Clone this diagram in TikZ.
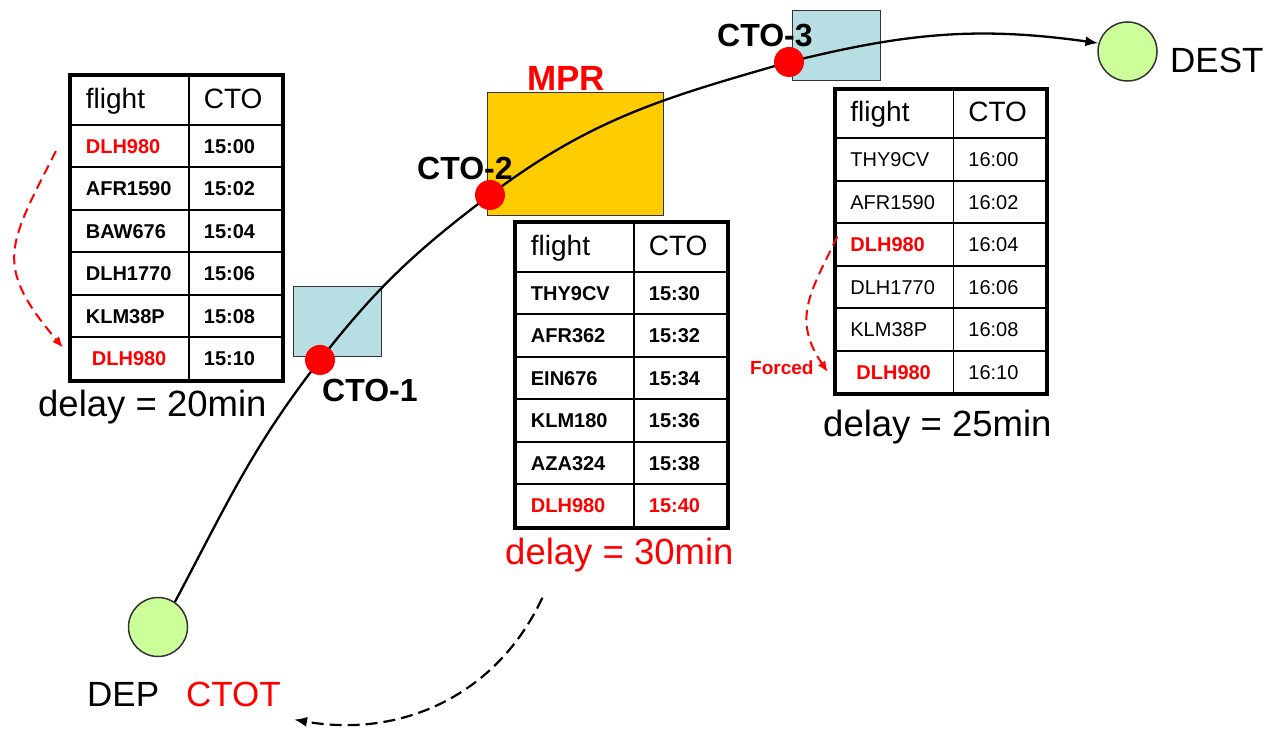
\documentclass[tikz,border=0pt]{standalone}
\usepackage{fontspec}
\setmainfont{Liberation Sans}
\usepackage{tikz}
\usetikzlibrary{arrows, arrows.meta, shapes, matrix}
\definecolor{mprorange}{HTML}{FFCC00}
\definecolor{sectorblue}{HTML}{B7DEE2}
\definecolor{airportgreen}{HTML}{CCFF99}
\definecolor{edgegray}{HTML}{333333}
\newcommand{\pxfont}[1]{\fontsize{#1}{#1}\selectfont}
\newcommand{\slot}[1]{\textcolor{red}{\bfseries #1}}

\begin{document}
\begin{tikzpicture}[x=1pt, y=1pt,
  cell/.style = {draw, line width=1.8pt, outer sep=0pt, inner xsep=15pt, inner ysep=0pt,
    minimum height=42.5pt, text width=88pt, text height=14.5pt, text depth=0pt,
    align=left, anchor=center},
  flighttab/.style = {matrix of nodes, draw, line width=4pt, inner sep=0pt, outer sep=0pt,
    anchor=north west, row sep=-1.8pt, column sep=-1.8pt,
    nodes={cell, font=\pxfont{20}},
    column 2/.style={nodes={text width=63pt}},
    row 1/.style={nodes={minimum height=48.5pt, text height=21pt, text depth=6pt,
      font=\pxfont{28}}}},
  airport/.style = {circle, draw=edgegray, line width=1.5pt, fill=airportgreen, minimum size=59pt},
  sector/.style = {rectangle, draw=edgegray, line width=1pt, fill=sectorblue,
    minimum width=88pt, minimum height=70pt},
  ctopoint/.style = {circle, fill=red, inner sep=0pt, minimum size=30pt},
  lbl/.style = {inner sep=0pt, anchor=base west},
  cto/.style = {lbl, font=\pxfont{32}\bfseries},
  big/.style = {lbl, font=\pxfont{36.5}},
  forcedmove/.style = {red, line width=2pt, dash pattern=on 10pt off 6pt,
    -{Latex[length=11pt, width=9pt]}},
  slotback/.style = {black, line width=2.2pt, dash pattern=on 12pt off 6pt,
    -{Latex[length=13pt, width=10pt]}}]

  \useasboundingbox (0,0) rectangle (1269,731);

  % sectors on the route
  \node[sector] (sec1) at (337,409) {};
  \node[sector] (sec3) at (836.5,685) {};
  \node[sector, fill=mprorange, minimum width=176pt, minimum height=123pt] (mpr) at (575,576.5) {};

  \node[airport] (dep) at (158,104) {};
  \node[airport] (dest) at (1127.5,679.5) {};

  \coordinate (p1) at (320,371);
  \coordinate (p2) at (490,536);
  \coordinate (p3) at (789,669);

  \draw[line width=2.3pt, -{Latex[length=13pt, width=10pt]}] (dep.56) to[out=62, in=232] (p1)
    to[out=52, in=217] (p2) to[out=37, in=196] (p3) to[out=14, in=172] (dest.164);

  \node[cto] (cto1lbl) at (322,329) {CTO-1};
  \node[cto] (cto2lbl) at (417,551) {CTO-2};
  \node[cto] (cto3lbl) at (717,684) {CTO-3};
  \node[ctopoint] (cto1) at (p1) {};
  \node[ctopoint] (cto2) at (p2) {};
  \node[ctopoint] (cto3) at (p3) {};

  \node[lbl, font=\pxfont{35}\bfseries, text=red] (mprlbl) at (527,640) {MPR};
  \node[lbl, font=\pxfont{35}] (deplbl) at (87,24) {DEP};
  \node[lbl, font=\pxfont{35}, text=red] (ctot) at (186,24) {CTOT};
  \node[lbl, font=\pxfont{35}] (destlbl) at (1170,658) {DEST};

  % slot lists
  \matrix (tabL) [flighttab, nodes={font=\pxfont{20}\bfseries}] at (70,655.5) {
    flight & CTO \\
    \slot{DLH980} & 15:00 \\
    AFR1590 & 15:02 \\
    BAW676 & 15:04 \\
    DLH1770 & 15:06 \\
    KLM38P & 15:08 \\
    \slot{\hspace*{6pt}DLH980} & 15:10 \\
  };
  \matrix (tabM) [flighttab, nodes={font=\pxfont{20}\bfseries}] at (515,508.5) {
    flight & CTO \\
    THY9CV & 15:30 \\
    AFR362 & 15:32 \\
    EIN676 & 15:34 \\
    KLM180 & 15:36 \\
    AZA324 & 15:38 \\
    \slot{DLH980} & \slot{15:40} \\
  };
  \matrix (tabR) [flighttab] at (834.5,642.2) {
    flight & CTO \\
    THY9CV & 16:00 \\
    AFR1590 & 16:02 \\
    \slot{DLH980} & 16:04 \\
    DLH1770 & 16:06 \\
    KLM38P & 16:08 \\
    \slot{\hspace*{6pt}DLH980} & 16:10 \\
  };

  \node[big] (delay20) at (38,314) {delay = 20min};
  \node[big, text=red] (delay30) at (505,166) {delay = 30min};
  \node[big] (delay25) at (823,294) {delay = 25min};
  \node[lbl, font=\pxfont{19}\bfseries, text=red] (forced) at (750,356) {Forced};

  \draw[forcedmove] ([xshift=-15pt, yshift=-5pt]tabL-2-1.west)
    to[out=243, in=130, looseness=1.4] ([xshift=-8pt, yshift=11pt]tabL-7-1.west);
  \draw[forcedmove] ([xshift=2pt, yshift=8pt]tabR-4-1.west)
    to[out=244, in=124, looseness=1.2] ([xshift=14pt, yshift=-4pt]forced.east);
  \draw[slotback] ([xshift=-77pt, yshift=-25pt]delay30.south)
    to[out=245, in=-10] ([xshift=13pt, yshift=-12pt]ctot.south east);
\end{tikzpicture}
\end{document}
